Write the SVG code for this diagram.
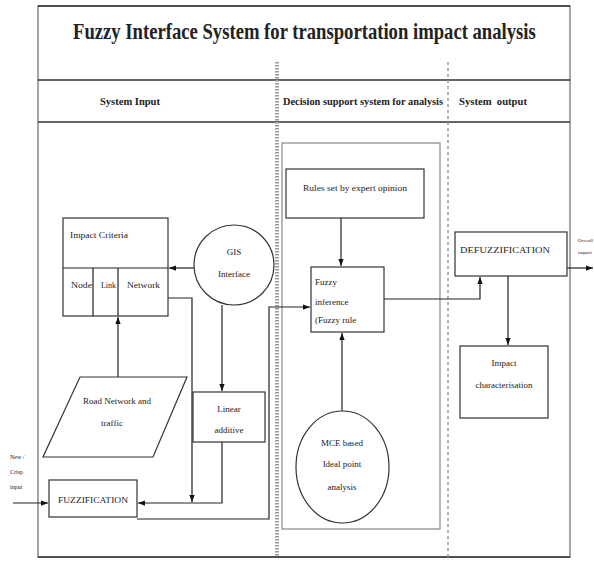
<svg xmlns="http://www.w3.org/2000/svg" width="594" height="561" viewBox="0 0 594 561">
<defs>
<marker id="ah" viewBox="0 0 8 6" refX="8" refY="3" markerWidth="7" markerHeight="6" markerUnits="userSpaceOnUse" orient="auto">
<path d="M0,0 L8,3 L0,6 z" fill="#111"/>
</marker>
<style>
.t{font-family:"Liberation Serif","Times New Roman",serif;fill:#222;}
.n{font-size:9px;}
.h{font-size:10px;font-weight:bold;}
.box{fill:#fff;stroke:#333;stroke-width:1.2;}
.c{fill:none;stroke:#222;stroke-width:1.2;}
.frame{fill:none;stroke:#888;stroke-width:1.5;}
.sep{stroke:#333;stroke-width:1.5;}
</style>
</defs>
<rect width="594" height="561" fill="#fff"/>
<g id="frame">
<rect class="frame" x="38" y="6" width="532" height="551"/>
<line class="sep" x1="38" y1="6" x2="570" y2="6"/>
<line class="sep" x1="38" y1="557" x2="570" y2="557"/>
<line class="sep" x1="38" y1="80" x2="570" y2="80"/>
<line class="sep" x1="38" y1="122" x2="570" y2="122"/>
<line x1="277" y1="62" x2="277" y2="557" stroke="#999" stroke-width="4" stroke-dasharray="1.5 1.5"/>
<line x1="448" y1="62" x2="448" y2="557" stroke="#999" stroke-width="1.5" stroke-dasharray="3 3"/>
<rect x="282" y="143" width="158" height="386" fill="none" stroke="#888" stroke-width="1.2"/>
<text class="t" transform="translate(73,39) scale(0.77,1)" x="0" y="0" font-size="24" font-weight="bold" textLength="601" lengthAdjust="spacingAndGlyphs">Fuzzy Interface System for transportation impact analysis</text>
<text class="t h" x="100" y="105" textLength="60" lengthAdjust="spacingAndGlyphs">System Input</text>
<text class="t h" x="283" y="105" textLength="160" lengthAdjust="spacingAndGlyphs">Decision support system for analysis</text>
<text class="t h" x="459" y="105" textLength="68" lengthAdjust="spacingAndGlyphs" xml:space="preserve">System  output</text>
</g>
<g id="connectors">
<line class="c" x1="194" y1="268" x2="169" y2="268" marker-end="url(#ah)"/>
<polyline class="c" points="168,298 192,298 192,502" marker-end="url(#ah)"/>
<line class="c" x1="222" y1="305" x2="222" y2="391" marker-end="url(#ah)"/>
<polyline class="c" points="222,442 222,503 138,503" marker-end="url(#ah)"/>
<line class="c" x1="118" y1="377" x2="118" y2="317" marker-end="url(#ah)"/>
<line class="c" x1="13" y1="503" x2="48" y2="503" marker-end="url(#ah)"/>
<polyline class="c" points="137,519 269,519 269,307 310,307" marker-end="url(#ah)"/>
<line class="c" x1="341" y1="218" x2="341" y2="266" marker-end="url(#ah)"/>
<line class="c" x1="342" y1="411" x2="342" y2="333" marker-end="url(#ah)"/>
<polyline class="c" points="384,299 480,299 480,277" marker-end="url(#ah)"/>
<line class="c" x1="508" y1="276" x2="508" y2="345" marker-end="url(#ah)"/>
<line class="c" x1="567" y1="268" x2="593" y2="268" marker-end="url(#ah)"/>
</g>
<g id="impact-criteria">
<rect class="box" x="63" y="218" width="105" height="98"/>
<line class="c" x1="63" y1="268" x2="168" y2="268"/>
<line class="c" x1="93" y1="268" x2="93" y2="316"/>
<line class="c" x1="118" y1="268" x2="118" y2="316"/>
<text class="t n" x="70" y="238" textLength="58" lengthAdjust="spacingAndGlyphs">Impact Criteria</text>
<text class="t n" x="71" y="288" textLength="21" lengthAdjust="spacingAndGlyphs">Node</text>
<text class="t n" x="101" y="288" textLength="15" lengthAdjust="spacingAndGlyphs">Link</text>
<text class="t n" x="127" y="288" textLength="33" lengthAdjust="spacingAndGlyphs">Network</text>
</g>
<g id="gis-interface">
<circle cx="234" cy="265" r="40" fill="#fff" stroke="#333" stroke-width="1.2"/>
<text class="t n" x="234" y="255" text-anchor="middle">GIS</text>
<text class="t n" x="234" y="277" text-anchor="middle">Interface</text>
</g>
<g id="road-network">
<polygon points="80,377 187,377 153,457 43,457" fill="#fff" stroke="#333" stroke-width="1.2"/>
<text class="t n" x="117" y="404" text-anchor="middle">Road Network and</text>
<text class="t n" x="112" y="426" text-anchor="middle">traffic</text>
</g>
<g id="linear-additive">
<rect class="box" x="193" y="392" width="72" height="50"/>
<text class="t n" x="229" y="412" text-anchor="middle">Linear</text>
<text class="t n" x="229" y="433" text-anchor="middle">additive</text>
</g>
<g id="crisp-input">
<text class="t" font-size="6" x="10" y="459">New /</text>
<text class="t" font-size="6" x="10" y="474">Crisp</text>
<text class="t" font-size="6" x="10" y="489">input</text>
</g>
<g id="fuzzification">
<rect class="box" x="49" y="480" width="88" height="37"/>
<text class="t n" x="58" y="503" textLength="70" lengthAdjust="spacingAndGlyphs">FUZZIFICATION</text>
</g>
<g id="rules">
<rect class="box" x="286" y="169" width="138" height="49"/>
<text class="t n" x="303" y="191" textLength="104" lengthAdjust="spacingAndGlyphs">Rules set by expert opinion</text>
</g>
<g id="fuzzy-inference">
<rect class="box" x="311" y="267" width="73" height="65"/>
<text class="t n" x="315" y="285">Fuzzy</text>
<text class="t n" x="315" y="305">inference</text>
<text class="t n" x="315" y="323">(Fuzzy rule</text>
</g>
<g id="mce">
<ellipse cx="342.5" cy="467" rx="46.5" ry="56" fill="#fff" stroke="#333" stroke-width="1.2"/>
<text class="t n" x="342" y="446" text-anchor="middle">MCE based</text>
<text class="t n" x="342" y="467" text-anchor="middle">Ideal point</text>
<text class="t n" x="342" y="490" text-anchor="middle">analysis</text>
</g>
<g id="defuzzification">
<rect class="box" x="455" y="232" width="112" height="44"/>
<text class="t n" x="460" y="253" textLength="90" lengthAdjust="spacingAndGlyphs">DEFUZZIFICATION</text>
</g>
<g id="impact-characterisation">
<rect class="box" x="460" y="346" width="88" height="72"/>
<text class="t n" x="504" y="366" text-anchor="middle">Impact</text>
<text class="t n" x="504" y="388" text-anchor="middle">characterisation</text>
</g>
<g id="output-label">
<text class="t" font-size="5" x="578" y="242">Overall</text>
<text class="t" font-size="5" x="578" y="254">impact</text>
</g>
</svg>
